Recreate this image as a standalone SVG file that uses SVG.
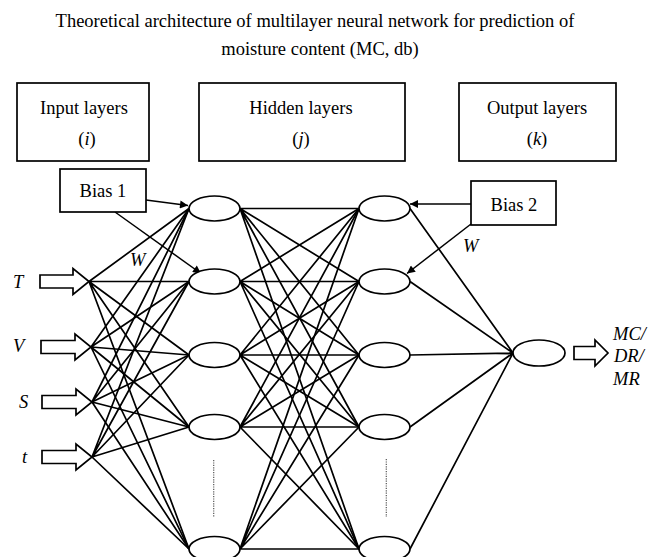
<svg xmlns="http://www.w3.org/2000/svg" width="657" height="557" viewBox="0 0 657 557">
<style>
text{font-family:"Liberation Serif","Times New Roman",serif;font-size:18.5px;fill:#000}
.it{font-style:italic}
.box{fill:#fff;stroke:#000;stroke-width:1.7}
.node{fill:#fff;stroke:#000;stroke-width:1.7}
.ln{stroke:#000;stroke-width:1.7;fill:none}
.ar{stroke:#000;stroke-width:1.5;fill:none;marker-end:url(#ah)}
.blk{fill:#fff;stroke:#000;stroke-width:1.7;stroke-linejoin:miter}
.dot{stroke:#555;stroke-width:1.2;stroke-dasharray:1.2 1.2}
</style>
<defs>
<marker id="ah" viewBox="0 0 10 10" refX="10" refY="5" markerWidth="9" markerHeight="8" markerUnits="userSpaceOnUse" orient="auto">
<path d="M0,0 L10,5 L0,10 Z" fill="#000"/>
</marker>
</defs>
<rect width="657" height="557" fill="#fff"/>
<g id="title">
<text x="315" y="27" text-anchor="middle">Theoretical architecture of multilayer neural network for prediction of</text>
<text x="320" y="55" text-anchor="middle">moisture content (MC, db)</text>
</g>
<g id="input-layers">
<rect class="box" x="17" y="83" width="132" height="78"/>
<text x="84" y="114" text-anchor="middle">Input layers</text>
<text x="87" y="145" text-anchor="middle">(<tspan class="it">i</tspan>)</text>
</g>
<g id="hidden-layers">
<rect class="box" x="199" y="83" width="206" height="78"/>
<text x="301" y="114" text-anchor="middle">Hidden layers</text>
<text x="301" y="145" text-anchor="middle">(<tspan class="it">j</tspan>)</text>
</g>
<g id="output-layers">
<rect class="box" x="459" y="83" width="157" height="78"/>
<text x="537" y="114" text-anchor="middle">Output layers</text>
<text x="537" y="145" text-anchor="middle">(<tspan class="it">k</tspan>)</text>
</g>
<g id="connectors">
<g class="ln">
<path d="M89,281.5 L189,208.5 M89,281.5 L189,281.5 M89,281.5 L189,355 M89,281.5 L189,427 M89,281.5 L189,549"/>
<path d="M91,347 L189,208.5 M91,347 L189,281.5 M91,347 L189,355 M91,347 L189,427 M91,347 L189,549"/>
<path d="M92,402 L189,208.5 M92,402 L189,281.5 M92,402 L189,355 M92,402 L189,427 M92,402 L189,549"/>
<path d="M92,457 L189,208.5 M92,457 L189,281.5 M92,457 L189,355 M92,457 L189,427 M92,457 L189,549"/>
<path d="M240,208.5 L359,208.5 M240,208.5 L359,281.5 M240,208.5 L359,355 M240,208.5 L359,427 M240,208.5 L359,549"/>
<path d="M240,281.5 L359,208.5 M240,281.5 L359,281.5 M240,281.5 L359,355 M240,281.5 L359,427 M240,281.5 L359,549"/>
<path d="M240,355 L359,208.5 M240,355 L359,281.5 M240,355 L359,355 M240,355 L359,427 M240,355 L359,549"/>
<path d="M240,427 L359,208.5 M240,427 L359,281.5 M240,427 L359,355 M240,427 L359,427 M240,427 L359,549"/>
<path d="M240,549 L359,208.5 M240,549 L359,281.5 M240,549 L359,355 M240,549 L359,427 M240,549 L359,549"/>
<path d="M410,208.5 L513,353 M410,281.5 L513,353 M410,355 L513,353 M410,427 L513,353 M410,549 L513,353"/>
</g>
<line class="ar" x1="146" y1="200" x2="188" y2="205.5"/>
<line class="ar" x1="115" y1="212" x2="201" y2="273.5"/>
<line class="ar" x1="471" y1="204" x2="410" y2="204"/>
<line class="ar" x1="471" y1="224" x2="407" y2="273.5"/>
</g>
<g id="bias1">
<rect class="box" x="60" y="169" width="86" height="43"/>
<text x="103" y="197" text-anchor="middle">Bias 1</text>
</g>
<g id="bias2">
<rect class="box" x="471" y="181" width="85" height="44"/>
<text x="514" y="211" text-anchor="middle">Bias 2</text>
</g>
<g id="input-T">
<path class="blk" d="M40,275 L73,275 L73,268.5 L89,281.5 L73,294.5 L73,288 L40,288 Z"/>
<text class="it" x="13" y="288">T</text>
</g>
<g id="input-V">
<path class="blk" d="M41,340.5 L75,340.5 L75,334 L91,347 L75,360 L75,353.5 L41,353.5 Z"/>
<text class="it" x="13" y="352">V</text>
</g>
<g id="input-S">
<path class="blk" d="M42,395.5 L76,395.5 L76,389 L92,402 L76,415 L76,408.5 L42,408.5 Z"/>
<text class="it" x="19" y="408">S</text>
</g>
<g id="input-t">
<path class="blk" d="M42,450.5 L76,450.5 L76,444 L92,457 L76,470 L76,463.5 L42,463.5 Z"/>
<text class="it" x="22" y="463">t</text>
</g>
<g id="h1-1"><ellipse class="node" cx="214.5" cy="208.5" rx="25.5" ry="12.5"/></g>
<g id="h1-2"><ellipse class="node" cx="214.5" cy="281.5" rx="25.5" ry="12.5"/></g>
<g id="h1-3"><ellipse class="node" cx="214.5" cy="355" rx="25.5" ry="12.5"/></g>
<g id="h1-4"><ellipse class="node" cx="214.5" cy="427" rx="25.5" ry="12.5"/></g>
<g id="h1-5"><ellipse class="node" cx="214.5" cy="549" rx="25.5" ry="12.5"/></g>
<g id="h1-dots"><line class="dot" x1="213.7" y1="460" x2="213.7" y2="517"/></g>
<g id="h2-1"><ellipse class="node" cx="384.5" cy="208.5" rx="25.5" ry="12.5"/></g>
<g id="h2-2"><ellipse class="node" cx="384.5" cy="281.5" rx="25.5" ry="12.5"/></g>
<g id="h2-3"><ellipse class="node" cx="384.5" cy="355" rx="25.5" ry="12.5"/></g>
<g id="h2-4"><ellipse class="node" cx="384.5" cy="427" rx="25.5" ry="12.5"/></g>
<g id="h2-5"><ellipse class="node" cx="384.5" cy="549" rx="25.5" ry="12.5"/></g>
<g id="h2-dots"><line class="dot" x1="386.3" y1="459" x2="386.3" y2="517"/></g>
<g id="output-node">
<ellipse class="node" cx="539" cy="353" rx="26" ry="13"/>
</g>
<g id="output-arrow">
<path class="blk" d="M574,346.5 L595,346.5 L595,340 L608,353 L595,366 L595,359.5 L574,359.5 Z"/>
<text class="it" x="613" y="340">MC/</text>
<text class="it" x="614" y="362">DR/</text>
<text class="it" x="613" y="385">MR</text>
</g>
<g id="w-labels">
<text class="it" x="130" y="266">W</text>
<text class="it" x="463" y="252">W</text>
</g>
</svg>
